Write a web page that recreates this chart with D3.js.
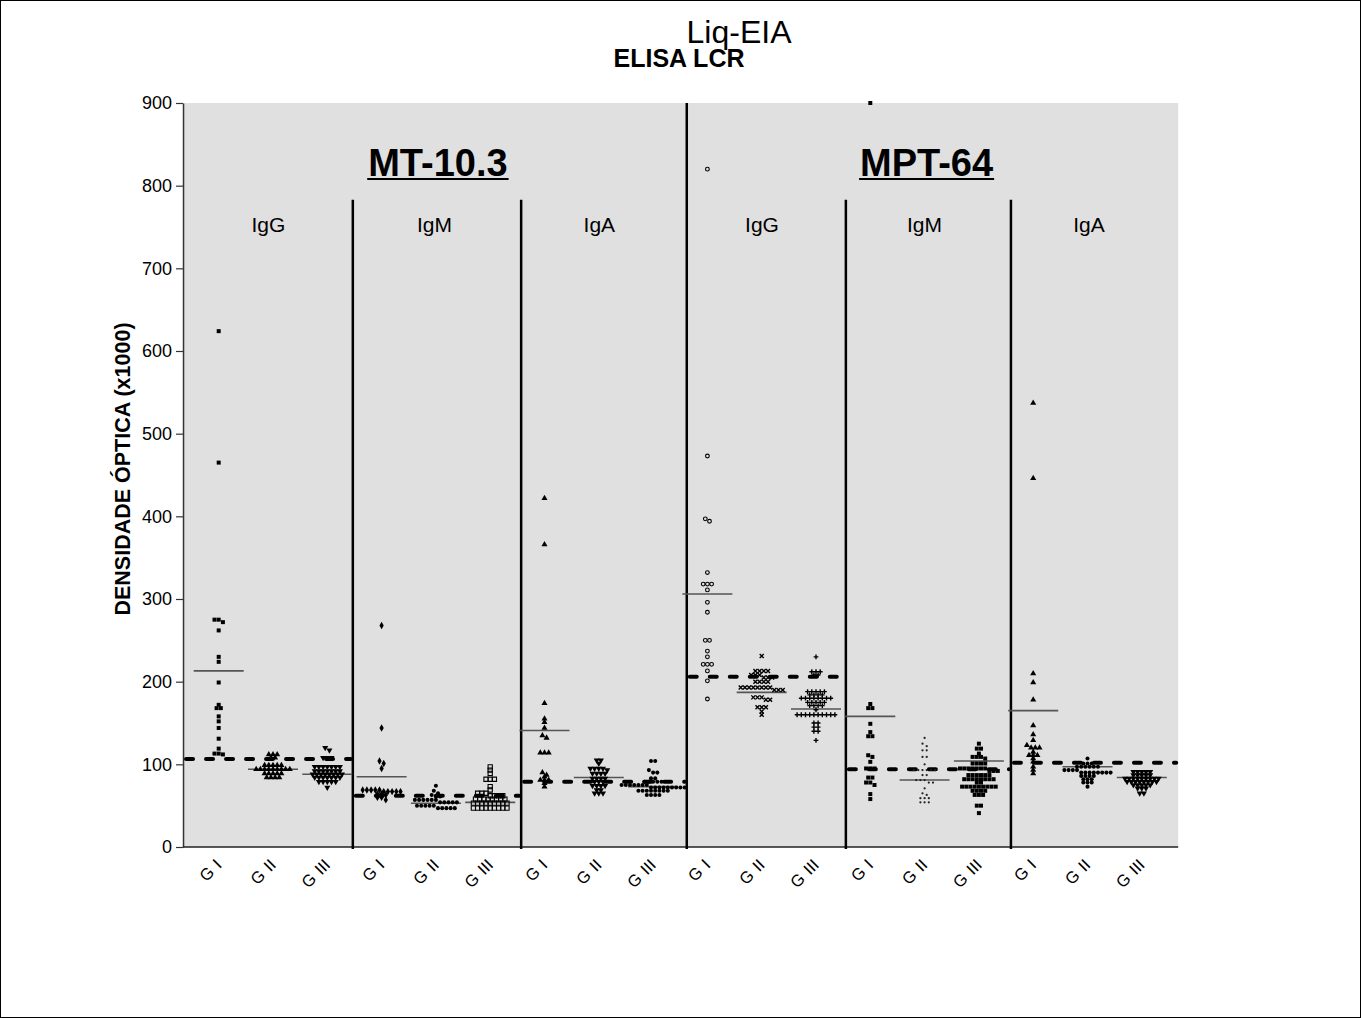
<!DOCTYPE html>
<html><head><meta charset="utf-8">
<script src="https://cdn.jsdelivr.net/npm/d3@7"></script>
<style>
body{margin:0;background:#fff}
svg{display:block;font-family:"Liberation Sans",Arial,Helvetica,sans-serif}
</style>
</head><body>
<svg id="chart" width="1361" height="1018"></svg>
<script>
// ---------------- data ----------------
const antigens = ["MT-10.3", "MPT-64"];
const isotypes = ["IgG", "IgM", "IgA"];
const groups = ["G I", "G II", "G III"];
const yTicks = [0, 100, 200, 300, 400, 500, 600, 700, 800, 900];
const cutoffs = [106.5, 62, 79, 206, 94, 102];           // per antigen/isotype section
const groupMeans = [213, 94, 88, 85, 53, 54, 141, 84, 73,
                    306, 187, 167, 158, 81, 104, 165, 97, 84];

const mtIgG_G1 = [624, 465, 275, 275, 272, 262, 230, 224, 199, 172, 168, 168, 158, 152, 144, 131, 119, 113, 112, 113];
const mtIgG_G2 = [112, 112, 112, 108, 108, 99, 99, 99, 99, 99, 94, 94, 94, 94, 94, 94, 94, 94, 94, 89, 89, 89, 89, 89, 84, 84, 84, 84];
const mtIgG_G3 = [120, 117, 108, 108, 108, 97, 97, 97, 97, 97, 97, 97, 92, 92, 92, 92, 92, 92, 92, 88, 88, 88, 88, 88, 88, 88, 88, 84, 84, 84, 84, 84, 84, 84, 79, 79, 79, 79, 79, 72];
const mtIgM_G1 = [268, 144, 104, 101, 95, 69, 69, 69, 69, 69, 67, 67, 67, 67, 67, 64, 64, 63, 60, 60, 57];
const mtIgM_G2 = [74, 68, 65, 63, 61, 61, 57, 57, 57, 57, 57, 57, 54, 54, 54, 54, 54, 50, 50, 50, 50, 50, 47, 47, 47, 47, 47];
const mtIgM_G3 = [97, 93, 89, 82, 82, 82, 73, 69, 65, 65, 65, 62, 62, 62, 62, 58, 58, 58, 58, 58, 58, 58, 58, 53, 53, 53, 53, 53, 53, 53, 53, 53, 47, 47, 47, 47, 47, 47, 47, 47, 47];
const mtIgA_G1 = [422, 366, 174, 155, 151, 144, 135, 132, 114, 114, 114, 90, 87, 85, 81, 81, 81, 77, 73];
const mtIgA_G2 = [105, 105, 101, 95, 95, 95, 95, 93, 89, 89, 89, 89, 83, 83, 83, 83, 79, 79, 79, 74, 74, 74, 74, 69, 69, 65, 65, 65];
const mtIgA_G3 = [104, 104, 93, 90, 90, 83, 83, 79, 79, 79, 79, 79, 75, 75, 75, 75, 75, 75, 75, 72, 72, 72, 72, 72, 72, 72, 72, 72, 68, 68, 68, 68, 68, 68, 68, 68, 63, 63, 63, 63];
const mptIgG_G1 = [820, 473, 397, 394, 332, 318, 318, 318, 311, 296, 284, 250, 250, 237, 230, 221, 221, 221, 213, 201, 179];
const mptIgG_G2 = [231, 213, 213, 213, 213, 208, 208, 208, 205, 205, 205, 200, 200, 200, 200, 193, 193, 193, 193, 193, 193, 193, 193, 190, 190, 190, 181, 181, 181, 178, 178, 169, 169, 169, 164, 160];
const mptIgG_G3 = [230, 212, 212, 212, 208, 208, 188, 188, 188, 188, 188, 184, 184, 184, 184, 180, 180, 180, 180, 180, 180, 180, 180, 175, 175, 175, 175, 175, 171, 171, 171, 171, 166, 160, 160, 160, 160, 160, 160, 160, 160, 160, 160, 150, 150, 145, 145, 140, 140, 129];
const mptIgM_G1 = [900, 173, 168, 168, 149, 139, 134, 134, 111, 109, 103, 95, 95, 95, 84, 84, 78, 78, 75, 64, 58];
const mptIgM_G2 = [132, 125, 122, 117, 117, 109, 109, 100, 93, 93, 93, 93, 93, 93, 87, 87, 81, 81, 81, 78, 78, 71, 65, 63, 59, 59, 59, 54, 54, 54];
const mptIgM_G3 = [125, 119, 119, 113, 109, 109, 109, 107, 101, 101, 101, 101, 95, 95, 95, 95, 95, 95, 95, 92, 92, 92, 87, 87, 87, 87, 87, 87, 82, 82, 82, 82, 82, 82, 82, 82, 78, 78, 73, 73, 73, 73, 73, 73, 73, 73, 73, 68, 68, 68, 68, 63, 63, 63, 50, 50, 41];
const mptIgA_G1 = [537, 446, 210, 199, 178, 147, 136, 129, 123, 120, 120, 120, 115, 111, 111, 111, 107, 103, 97, 93, 89];
const mptIgA_G2 = [107, 101, 101, 101, 97, 97, 97, 97, 97, 97, 93, 93, 93, 93, 90, 90, 90, 90, 90, 90, 90, 90, 86, 86, 86, 86, 82, 82, 82, 78, 78, 78, 73];
const mptIgA_G3 = [91, 91, 91, 91, 91, 87, 87, 87, 87, 87, 83, 83, 83, 83, 83, 83, 83, 83, 83, 79, 79, 79, 79, 79, 79, 79, 79, 75, 75, 75, 75, 75, 71, 71, 71, 65, 65];

const seriesValues = [mtIgG_G1, mtIgG_G2, mtIgG_G3, mtIgM_G1, mtIgM_G2, mtIgM_G3, mtIgA_G1, mtIgA_G2, mtIgA_G3,
                      mptIgG_G1, mptIgG_G2, mptIgG_G3, mptIgM_G1, mptIgM_G2, mptIgM_G3, mptIgA_G1, mptIgA_G2, mptIgA_G3];

// ---------------- layout / style ----------------
const markerKinds = ["square", "triangle", "triangleDown", "diamond", "circle", "squareOpen", "triangle", "triangleDown", "circle",
                     "circleOpen", "times", "plus", "square", "dot", "square", "triangle", "circle", "triangleDown"];
const dividerPos = [2.47, 5.57, 8.62, 11.55, 14.59];   // in category-index units
const axisEnds = [-0.657, 17.67];
const dividerTopVal = [783, 783, 900, 783, 783];

const svg = d3.select("#chart");
const x = d3.scaleLinear().domain([0, 17]).range([218.7, 1141.8]);
const y = d3.scaleLinear().domain([0, 900]).range([847, 103]);

// frame
svg.append("rect").attr("x", 0.5).attr("y", 0.5).attr("width", 1360).attr("height", 1017)
  .attr("fill", "#fff").attr("stroke", "#000");

// plot background
svg.append("rect").attr("x", x(axisEnds[0])).attr("y", y(900))
  .attr("width", x(axisEnds[1]) - x(axisEnds[0])).attr("height", y(0) - y(900))
  .attr("fill", "#e0e0e0");

// titles
svg.append("text").attr("x", 739).attr("y", 43).attr("text-anchor", "middle")
  .attr("font-size", 32).text("Liq-EIA");
svg.append("text").attr("x", 679).attr("y", 67).attr("text-anchor", "middle")
  .attr("font-size", 25).attr("font-weight", "bold").text("ELISA LCR");

// y axis
const yAxis = svg.append("g").attr("transform", `translate(${x(axisEnds[0])},0)`)
  .call(d3.axisLeft(y).tickValues(yTicks).tickSize(7).tickSizeOuter(0).tickPadding(4));
yAxis.selectAll("text").attr("font-size", 18).attr("fill", "#000").attr("font-family", "Liberation Sans, Arial, sans-serif");
yAxis.selectAll("line").attr("stroke", "#333").attr("stroke-width", 1.2);
yAxis.select(".domain").attr("stroke", "#333").attr("stroke-width", 1.5);

svg.append("text").attr("transform", `translate(130,469) rotate(-90)`)
  .attr("text-anchor", "middle").attr("font-size", 21.5).attr("font-weight", "bold")
  .text("DENSIDADE ÓPTICA (x1000)");

// x axis line
svg.append("line").attr("x1", x(axisEnds[0])).attr("x2", x(axisEnds[1]))
  .attr("y1", y(0)).attr("y2", y(0)).attr("stroke", "#222").attr("stroke-width", 1.5);

// dividers
svg.append("g").selectAll("line").data(dividerPos).join("line")
  .attr("x1", d => x(d)).attr("x2", d => x(d))
  .attr("y1", (d, i) => y(dividerTopVal[i])).attr("y2", y(0) + 2)
  .attr("stroke", "#000").attr("stroke-width", 2.5);

// antigen titles
antigens.forEach((a, i) => {
  const cx = x(4 + 9 * i) + 2;
  const t = svg.append("text").attr("x", cx).attr("y", 176).attr("text-anchor", "middle")
    .attr("font-size", 38).attr("font-weight", "bold").text(a);
  const w = t.node().getComputedTextLength();
  svg.append("line").attr("x1", cx - w / 2 - 1).attr("x2", cx + w / 2 + 1)
    .attr("y1", 179).attr("y2", 179).attr("stroke", "#000").attr("stroke-width", 2.2);
});

// sections: isotype labels
const sectionEdges = [axisEnds[0], ...dividerPos, axisEnds[1]];
for (let s = 0; s < 6; s++) {
  const l = sectionEdges[s], r = sectionEdges[s + 1];
  const mid = (x((l + r) / 2) + x(3 * s + 1)) / 2 - 2;
  svg.append("text").attr("x", mid).attr("y", 232).attr("text-anchor", "middle")
    .attr("font-size", 21).text(isotypes[s % 3]);
}

// x labels
const xl = svg.append("g");
for (let i = 0; i < 18; i++) {
  const parts = groups[i % 3].split(" ");
  const t = xl.append("text").attr("text-anchor", "end").attr("font-size", 16.5)
    .attr("transform", `translate(${x(i) + 4},866) rotate(-45)`);
  t.append("tspan").text(parts[0]);
  t.append("tspan").attr("dx", 6).text(parts[1]);
}

// mean lines
svg.append("g").selectAll("line").data(groupMeans).join("line")
  .attr("x1", (d, i) => x(i) - 25).attr("x2", (d, i) => x(i) + 25)
  .attr("y1", d => y(d)).attr("y2", d => y(d))
  .attr("stroke", "#555").attr("stroke-width", 1.6);

// cutoff dashed lines
svg.append("g").selectAll("line").data(cutoffs).join("line")
  .attr("x1", (d, s) => x(sectionEdges[s]) + 3).attr("x2", (d, s) => x(sectionEdges[s + 1]) - 2)
  .attr("y1", d => y(d)).attr("y2", d => y(d))
  .attr("stroke", "#000").attr("stroke-width", 4).attr("stroke-linecap", "round")
  .attr("stroke-dasharray", "7,13");

// markers
function markerPath(kind) {
  const p = d3.path();
  switch (kind) {
    case "square": return d3.symbol(d3.symbolSquare, 16)();
    case "squareOpen": return d3.symbol(d3.symbolSquare, 18)();
    case "triangle": case "triangleDown": return d3.symbol(d3.symbolTriangle, 16)();
    case "diamond": return d3.symbol(d3.symbolDiamond, 16)();
    case "circle": return d3.symbol(d3.symbolCircle, 13)();
    case "circleOpen": return d3.symbol(d3.symbolCircle, 11)();
    case "dot": return d3.symbol(d3.symbolCircle, 4)();
    case "times": p.moveTo(-2, -2); p.lineTo(2, 2); p.moveTo(-2, 2); p.lineTo(2, -2); return p.toString();
    case "plus": p.moveTo(-2.4, 0); p.lineTo(2.4, 0); p.moveTo(0, -2.4); p.lineTo(0, 2.4); return p.toString();
  }
}
function markerStyle(sel, kind) {
  if (kind === "squareOpen" || kind === "circleOpen") sel.attr("fill", "none").attr("stroke", "#000").attr("stroke-width", 1.1);
  else if (kind === "times" || kind === "plus") sel.attr("fill", "none").attr("stroke", "#000").attr("stroke-width", 1.4);
  else if (kind === "dot") sel.attr("fill", "#222");
  else sel.attr("fill", "#000");
}

function swarm(values, cx, spacing, rowTol) {
  const pts = values.map(v => ({ v, py: y(v) })).sort((a, b) => a.py - b.py);
  const rows = [];
  let cur = null;
  for (const p of pts) {
    if (!cur || p.py - cur[0].py > rowTol) { cur = [p]; rows.push(cur); }
    else cur.push(p);
  }
  rows.forEach(r => r.forEach((p, i) => { p.px = cx + (i - (r.length - 1) / 2) * spacing; }));
  return pts;
}

seriesValues.forEach((vals, i) => {
  const kind = markerKinds[i];
  const pts = swarm(vals, x(i), 4.2, 2.6);
  const d = markerPath(kind);
  const g = svg.append("g");
  const sel = g.selectAll("path").data(pts).join("path")
    .attr("d", d)
    .attr("transform", p => `translate(${p.px},${p.py})` + (kind === "triangleDown" ? " rotate(180)" : ""));
  markerStyle(sel, kind);
});
</script>
</body></html>
